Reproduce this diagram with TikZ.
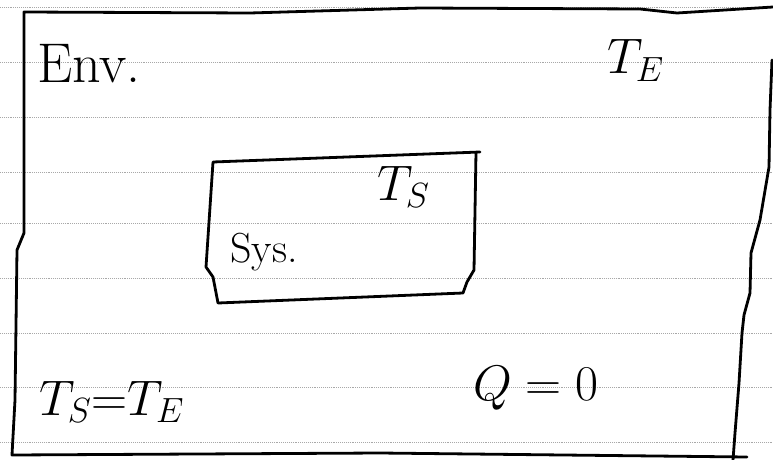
\RequirePackage{fix-cm}
\documentclass[tikz,border=0pt]{standalone}
\definecolor{rulegray}{HTML}{A8A8A8}
\tikzset{
	pen/.style={
			draw=black,
			line width=2.8pt,
			line join=round,
			line cap=round
		},
	ruleline/.style={
			draw=rulegray,
			line width=0.9pt,
			densely dotted
		},
	bigtext/.style={
			inner sep=0pt,
			anchor=base west,
			font=\fontsize{50}{52}\selectfont
		},
	midtext/.style={
			bigtext,
			font=\fontsize{56}{58}\selectfont
		},
	smalltext/.style={
			bigtext,
			font=\fontsize{42}{44}\selectfont
		}
}

\begin{document}
\begin{tikzpicture}[x=1pt, y=-1pt]
\useasboundingbox (0,0) rectangle (773,460);

% ruled paper
\foreach \y in {7,62,117,172,223,278,333,387,442}
	\draw[ruleline] (0,\y) -- (773,\y);

% environment outline
\draw[pen] (773,7) -- (677,13) -- (640,9) -- (420,8) -- (250,13) -- (24,12)
	-- (24,233) -- (17,250) -- (15,400) -- (12,455)
	-- (380,453) -- (747,457);
\draw[pen] (772,60) -- (770,110) -- (769,167) -- (760,220) -- (751,253)
	-- (750,293) -- (744,315) -- (742,333) -- (739,383) -- (735,433) -- (733,460);

% system outline
\draw[pen] (480,152) -- (213,162) -- (206,267) -- (213,277) -- (218,303)
	-- (463,293) -- (467,282) -- (474,270) -- (476,152);

% labels
\node[midtext] (env) at (37,82) {Env.};
\node[bigtext] (envT) at (607,74) {$T_E$};
\node[bigtext] (sysT) at (377,200) {$T_S$};
\node[smalltext] (sys) at (230,262) {Sys.};
\node[bigtext] (eq) at (39,415) {$T_S{=}T_E$};
\node[bigtext] (heat) at (473,400) {$Q = 0$};
\end{tikzpicture}
\end{document}
